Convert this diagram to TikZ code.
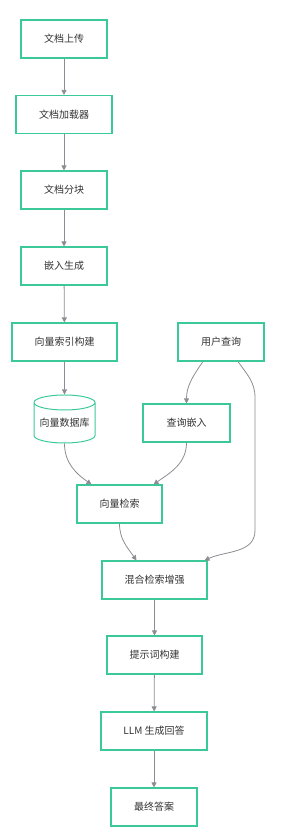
\documentclass[tikz,border=0pt]{standalone}
\usepackage{fontspec}
\usepackage{xcolor}
\usepackage{tikz}
\usetikzlibrary{arrows.meta, positioning, shapes.geometric}
\newfontfamily\cjk{Noto Sans CJK SC}
\definecolor{boxgreen}{HTML}{3CC99A}
\definecolor{edgegray}{HTML}{8C8C94}
\definecolor{txtgray}{HTML}{333333}

\begin{document}
\begin{tikzpicture}[
    x=1pt, y=1pt,
    % Styles
    stepbox/.style={draw=boxgreen, line width=1.1pt, rectangle, align=center,
                    minimum height=38pt, fill=white, font=\cjk\fontsize{10}{12}\selectfont,
                    text=txtgray, inner sep=0pt},
    dbbox/.style={draw=boxgreen, line width=1pt, cylinder, shape border rotate=90,
                  aspect=0.3, minimum width=61pt, minimum height=48pt, inner sep=0pt,
                  font=\cjk\fontsize{10}{12}\selectfont, text=txtgray},
    arrow/.style={-{Triangle[length=5pt, width=5pt]}, draw=edgegray, line width=0.8pt}
  ]
    \useasboundingbox (0,0) rectangle (293,830);

    % === Indexing pipeline (left) ===
    \node[stepbox, minimum width=86pt] (upload) at (64,791) {文档上传};
    \node[stepbox, minimum width=96pt] (loader) at (64,715.5) {文档加载器};
    \node[stepbox, minimum width=86pt] (chunk) at (64,640) {文档分块};
    \node[stepbox, minimum width=86pt] (embed) at (64,564) {嵌入生成};
    \node[stepbox, minimum width=105pt] (index) at (64.5,488) {向量索引构建};
    \node[dbbox] (vdb) at (64.5,407) {向量数据库};

    % === Query side (right) ===
    \node[stepbox, minimum width=86pt] (query) at (221,488) {用户查询};
    \node[stepbox, minimum width=87pt] (qembed) at (186.5,407) {查询嵌入};

    % === Retrieval and answer ===
    \node[stepbox, minimum width=85pt] (search) at (119.5,326) {向量检索};
    \node[stepbox, minimum width=105pt] (hybrid) at (154.5,250) {混合检索增强};
    \node[stepbox, minimum width=95pt] (prompt) at (154.5,175) {提示词构建};
    \node[stepbox, minimum width=106pt] (llm) at (154,99) {LLM 生成回答};
    \node[stepbox, minimum width=86pt] (answer) at (154,23) {最终答案};

    % === Edges ===
    \draw[arrow] (upload) -- (loader);
    \draw[arrow] (loader) -- (chunk);
    \draw[arrow] (chunk) -- (embed);
    \draw[arrow] (embed) -- (index);
    \draw[arrow] (index) -- (vdb);

    \draw[arrow] ([xshift=-18pt]query.south) to[out=-125, in=90] (qembed.north);
    \draw[arrow] ([xshift=17pt]query.south) to[out=-55, in=90] ++(17,-36)
        -- ++(0,-133) to[out=-90, in=25] ([xshift=50pt]hybrid.north);

    \draw[arrow] (vdb.south) to[out=-90, in=145] ([xshift=-28pt]search.north);
    \draw[arrow] (qembed.south) to[out=-90, in=35] ([xshift=34pt]search.north);
    \draw[arrow] (search.south) to[out=-90, in=125] ([xshift=-18pt]hybrid.north);

    \draw[arrow] (hybrid) -- (prompt);
    \draw[arrow] (prompt) -- (llm);
    \draw[arrow] (llm) -- (answer);

  \end{tikzpicture}
\end{document}
